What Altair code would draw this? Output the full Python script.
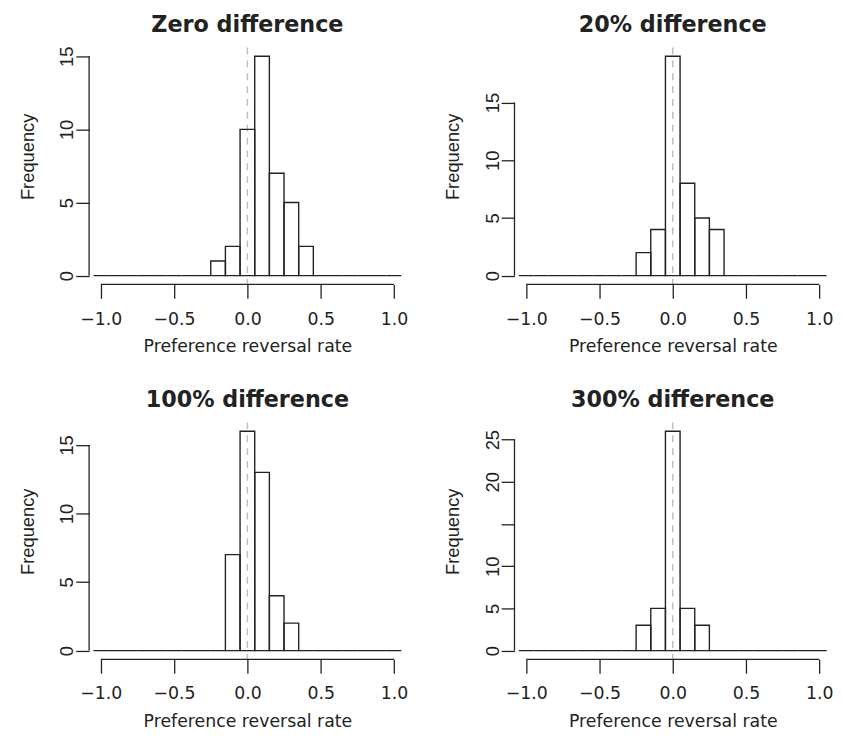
import altair as alt
import pandas as pd

# ---------------- data ----------------
PANEL_TITLES = ["Zero difference", "20% difference", "100% difference", "300% difference"]

BIN_CENTERS = [-1.0, -0.9, -0.8, -0.7, -0.6, -0.5, -0.4, -0.3, -0.2, -0.1, 0.0,
               0.1, 0.2, 0.3, 0.4, 0.5, 0.6, 0.7, 0.8, 0.9, 1.0]
BIN_HALF_WIDTH = 0.05

COUNTS_ZERO = [0, 0, 0, 0, 0, 0, 0, 0, 1, 2, 10, 15, 7, 5, 2, 0, 0, 0, 0, 0, 0]
COUNTS_20 = [0, 0, 0, 0, 0, 0, 0, 0, 2, 4, 19, 8, 5, 4, 0, 0, 0, 0, 0, 0, 0]
COUNTS_100 = [0, 0, 0, 0, 0, 0, 0, 0, 0, 7, 16, 13, 4, 2, 0, 0, 0, 0, 0, 0, 0]
COUNTS_300 = [0, 0, 0, 0, 0, 0, 0, 0, 3, 5, 26, 5, 3, 0, 0, 0, 0, 0, 0, 0, 0]

X_TICKS = [-1.0, -0.5, 0.0, 0.5, 1.0]
Y_TICKS_ZERO = [0, 5, 10, 15]
Y_TICKS_20 = [0, 5, 10, 15]
Y_TICKS_100 = [0, 5, 10, 15]
Y_TICKS_300 = [0, 5, 10, 15, 20, 25]
HIDDEN_Y_LABELS_300 = [15]

REFERENCE_LINE = [0.0]

X_TITLE = "Preference reversal rate"
Y_TITLE = "Frequency"

# ---------------- style ----------------
INK = "#222222"
DASH_COLOR = "#c0c0c0"
W, H = 320, 239.5
H_FONT = "DejaVu Sans"
V_FONT = "Liberation Sans"


def make_panel(title, counts, y_ticks, hidden=()):
    lo, hi = X_TICKS[0], X_TICKS[-1]
    pad = 0.04 * (hi - lo)
    x_scale = alt.Scale(domain=[lo - pad, hi + pad], nice=False, zero=False)
    ymax = max(counts)
    y_scale = alt.Scale(domain=[-0.04 * ymax, 1.04 * ymax], nice=False, zero=False)

    x_axis = alt.Axis(
        values=X_TICKS, format=".1f", domain=False, grid=False,
        tickSize=14, tickWidth=1.3, tickColor=INK,
        labelFont=H_FONT, labelFontSize=17.5, labelColor=INK,
        labelBaseline="alphabetic", labelPadding=26, labelFlush=False,
        labelOverlap=False,
        titleFont=H_FONT, titleFontSize=17.5, titleFontWeight="normal",
        titleColor=INK, titleBaseline="alphabetic", titleY=68,
    )
    if hidden:
        expr = " || ".join(f"datum.value == {v}" for v in hidden)
        label_expr = f"({expr}) ? '' : datum.label"
    else:
        label_expr = "datum.label"
    y_axis = alt.Axis(
        values=y_ticks, domain=False, grid=False,
        tickSize=13.5, tickWidth=1.3, tickColor=INK,
        labelFont=V_FONT, labelFontSize=18.5, labelColor=INK,
        labelAngle=270, labelAlign="center", labelBaseline="alphabetic",
        labelPadding=3, labelOverlap=False, labelFlush=False,
        labelExpr=label_expr,
        titleFont=V_FONT, titleFontSize=18.5, titleFontWeight="normal",
        titleColor=INK, titleAngle=270, titleAlign="center",
        titleBaseline="alphabetic", titleX=-56.6, titleY=110,
    )

    def xenc(field):
        return alt.X(f"{field}:Q", scale=x_scale, axis=x_axis, title=X_TITLE)

    def yenc(field):
        return alt.Y(f"{field}:Q", scale=y_scale, axis=y_axis, title=Y_TITLE)

    bins = pd.DataFrame({
        "start": [c - BIN_HALF_WIDTH for c in BIN_CENTERS],
        "end": [c + BIN_HALF_WIDTH for c in BIN_CENTERS],
        "count": counts,
    })

    ref = alt.Chart(pd.DataFrame({"start": REFERENCE_LINE})).mark_rule(
        color=DASH_COLOR, strokeWidth=1.5, strokeDash=[7, 6]
    ).encode(x=xenc("start"))

    bars = alt.Chart(bins).mark_bar(
        fillOpacity=0, stroke=INK, strokeWidth=1.4
    ).encode(x=xenc("start"), x2="end:Q", y=yenc("count"), y2=alt.datum(0))

    x_line = alt.Chart(pd.DataFrame({"start": [lo], "end": [hi]})).mark_rule(
        color=INK, strokeWidth=1.3
    ).encode(x=xenc("start"), x2="end:Q", y=alt.value(H))

    y_line = alt.Chart(pd.DataFrame({"count": [y_ticks[0]], "count_end": [y_ticks[-1]]})).mark_rule(
        color=INK, strokeWidth=1.3
    ).encode(y=yenc("count"), y2="count_end:Q", x=alt.value(0))

    return alt.layer(ref, bars, x_line, y_line).properties(
        width=W, height=H,
        title=alt.TitleParams(
            title, font=H_FONT, fontSize=22.5, fontWeight="bold", color=INK,
            anchor="middle", frame="group", baseline="alphabetic", offset=-8,
        ),
    )


p1 = make_panel(PANEL_TITLES[0], COUNTS_ZERO, Y_TICKS_ZERO)
p2 = make_panel(PANEL_TITLES[1], COUNTS_20, Y_TICKS_20)
p3 = make_panel(PANEL_TITLES[2], COUNTS_100, Y_TICKS_100)
p4 = make_panel(PANEL_TITLES[3], COUNTS_300, Y_TICKS_300, HIDDEN_Y_LABELS_300)

chart = alt.concat(
    p1, p2, p3, p4, columns=2, bounds="flush",
    spacing={"row": 139, "column": 110},
).properties(
    padding={"left": 9, "top": 1, "right": 0, "bottom": 0},
    background="white",
).configure_view(stroke="transparent")

chart.save("out.html", embed_options={"renderer": "svg", "actions": False})
